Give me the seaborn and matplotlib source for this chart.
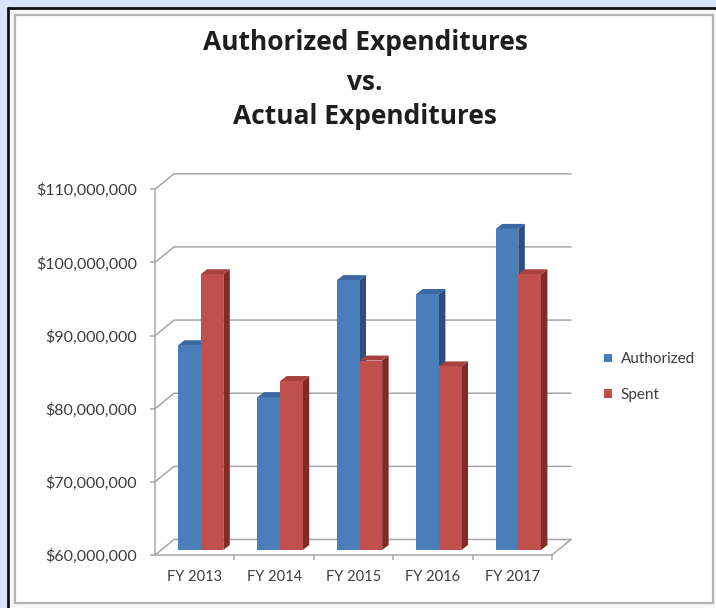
import matplotlib
matplotlib.use("Agg")
import matplotlib.pyplot as plt
from matplotlib.patches import Polygon, Rectangle
from matplotlib.lines import Line2D
import pandas as pd
import seaborn as sns

# ---- data -------------------------------------------------------------
years = ["FY 2013", "FY 2014", "FY 2015", "FY 2016", "FY 2017"]
series = ["Authorized", "Spent"]
authorized = [88.0e6, 80.9e6, 96.9e6, 95.0e6, 103.9e6]
spent = [97.7e6, 83.1e6, 85.9e6, 85.1e6, 97.7e6]
y_ticks = [60e6, 70e6, 80e6, 90e6, 100e6, 110e6]
y_tick_labels = ["$60,000,000", "$70,000,000", "$80,000,000",
                 "$90,000,000", "$100,000,000", "$110,000,000"]
title_lines = ["Authorized Expenditures", "vs.", "Actual Expenditures"]

front_colors = ["#4a7ebb", "#c0504d"]
top_colors = ["#3a68a3", "#a8403d"]
side_colors = ["#2c4f7c", "#7f2b29"]

df = pd.DataFrame({
    "Year": years * 2,
    "Series": [series[0]] * len(years) + [series[1]] * len(years),
    "Value": authorized + spent,
})

sns.set_theme(style="white")
plt.rcParams["font.family"] = ["Lato", "DejaVu Sans"]

W, H = 716, 608
fig = plt.figure(figsize=(W / 100, H / 100), dpi=100)
fig.patch.set_facecolor("#d9e5f9")


def fx(x):
    return x / W


def fy(y):
    return 1 - y / H


# white sheet, dark frame on top/left, grey chart border
fig.add_artist(Rectangle((fx(8), 0), 1 - fx(8), fy(8), transform=fig.transFigure,
                         facecolor="#f7f7f7", edgecolor="none", zorder=-3))
fig.add_artist(Rectangle((fx(15), fy(603)), fx(713) - fx(15), fy(15) - fy(603),
                         transform=fig.transFigure, facecolor="white",
                         edgecolor="#b4b4b4", linewidth=1.6, zorder=-2))
fig.add_artist(Line2D([fx(8), 1], [fy(8), fy(8)], transform=fig.transFigure,
                      color="#111111", linewidth=2, zorder=-1))
fig.add_artist(Line2D([fx(8), fx(8)], [fy(8), 0], transform=fig.transFigure,
                      color="#111111", linewidth=2, zorder=-1))

# front plane of the 3-D box
x0, x1, y_top, y_bot = 155, 552, 189.3, 555
ax = fig.add_axes([fx(x0), fy(y_bot), fx(x1) - fx(x0), fy(y_top) - fy(y_bot)])
ax.set_facecolor("none")
ax.set_zorder(2)

sns.barplot(data=df, x="Year", y="Value", hue="Series", palette=front_colors,
            width=0.57, saturation=1, errorbar=None, ax=ax, zorder=3,
            linewidth=0)

ymin, ymax = y_ticks[0], y_ticks[-1]
ax.set_xlim(-0.5, len(years) - 0.5)
ax.set_ylim(ymin, ymax)

# pixel -> data conversions
kx = (len(years)) / (x1 - x0)
ky = (ymax - ymin) / (y_bot - y_top)

# depth offsets in pixels (right, up)
bar_dx, bar_dy = 6, 5        # front face of the columns
col_dx, col_dy = 6.5, 5      # column thickness
wall_dx, wall_dy = 19, 15.5  # back wall

grid_c = "#a6a6a6"
for v in y_ticks:
    ax.plot([-0.5, -0.5 + wall_dx * kx, len(years) - 0.5 + wall_dx * kx],
            [v, v + wall_dy * ky, v + wall_dy * ky],
            color=grid_c, linewidth=1.1, zorder=1, clip_on=False)
# right edge of the floor
ax.plot([len(years) - 0.5, len(years) - 0.5 + wall_dx * kx],
        [ymin, ymin + wall_dy * ky], color=grid_c, linewidth=1.1,
        zorder=1, clip_on=False)

# turn flat bars into 3-D columns
for s_idx, container in enumerate(ax.containers):
    for rect in container:
        v = rect.get_height()
        xl = rect.get_x() + bar_dx * kx
        w = rect.get_width()
        xr = xl + w
        yb = ymin + bar_dy * ky
        yt = v + bar_dy * ky
        rect.set_x(xl)
        rect.set_y(yb)
        rect.set_height(v - ymin)
        rect.set_clip_on(False)
        ddx, ddy = col_dx * kx, col_dy * ky
        ax.add_patch(Polygon([(xr, yb), (xr, yt), (xr + ddx, yt + ddy), (xr + ddx, yb + ddy)],
                             closed=True, facecolor=side_colors[s_idx],
                             edgecolor="none", zorder=2, clip_on=False))
        ax.add_patch(Polygon([(xl, yt), (xr, yt), (xr + ddx, yt + ddy), (xl + ddx, yt + ddy)],
                             closed=True, facecolor=top_colors[s_idx],
                             edgecolor="none", zorder=2, clip_on=False))

# axes styling
for side in ("top", "right"):
    ax.spines[side].set_visible(False)
for side in ("left", "bottom"):
    ax.spines[side].set_color(grid_c)
    ax.spines[side].set_linewidth(1.1)

ax.set_yticks(y_ticks)
ax.set_yticklabels(y_tick_labels)
ax.set_xticks(range(len(years)))
ax.set_xticklabels(years)
ax.set_xticks([i - 0.5 for i in range(1, len(years) + 1)], minor=True)
ax.tick_params(axis="y", length=3.6, width=1.1, color=grid_c, pad=9.4,
               labelsize=11.5, labelcolor="#3c3c3c", left=True)
ax.tick_params(axis="x", which="major", length=0, pad=11,
               labelsize=10.5, labelcolor="#3c3c3c")
ax.tick_params(axis="x", which="minor", length=3.6, width=1.1, color=grid_c,
               bottom=True)
ax.set_xlabel("")
ax.set_ylabel("")

# legend
handles, labels = ax.get_legend_handles_labels()
ax.legend(handles, labels, loc="center left",
          bbox_to_anchor=(fx(604), fy(377)), bbox_transform=fig.transFigure,
          frameon=False, fontsize=11, handlelength=0.5, handleheight=0.5,
          handletextpad=0.6, labelspacing=1.4, borderpad=0, borderaxespad=0,
          labelcolor="#3c3c3c")

# title
for text, yy in zip(title_lines, [43, 82, 117]):
    fig.text(fx(365), fy(yy), text, ha="center", va="center",
             fontsize=19, fontweight="bold", color="#1e1e1e",
             family=["Open Sans", "DejaVu Sans"])

fig.savefig("out.png", dpi=100, facecolor=fig.get_facecolor())
